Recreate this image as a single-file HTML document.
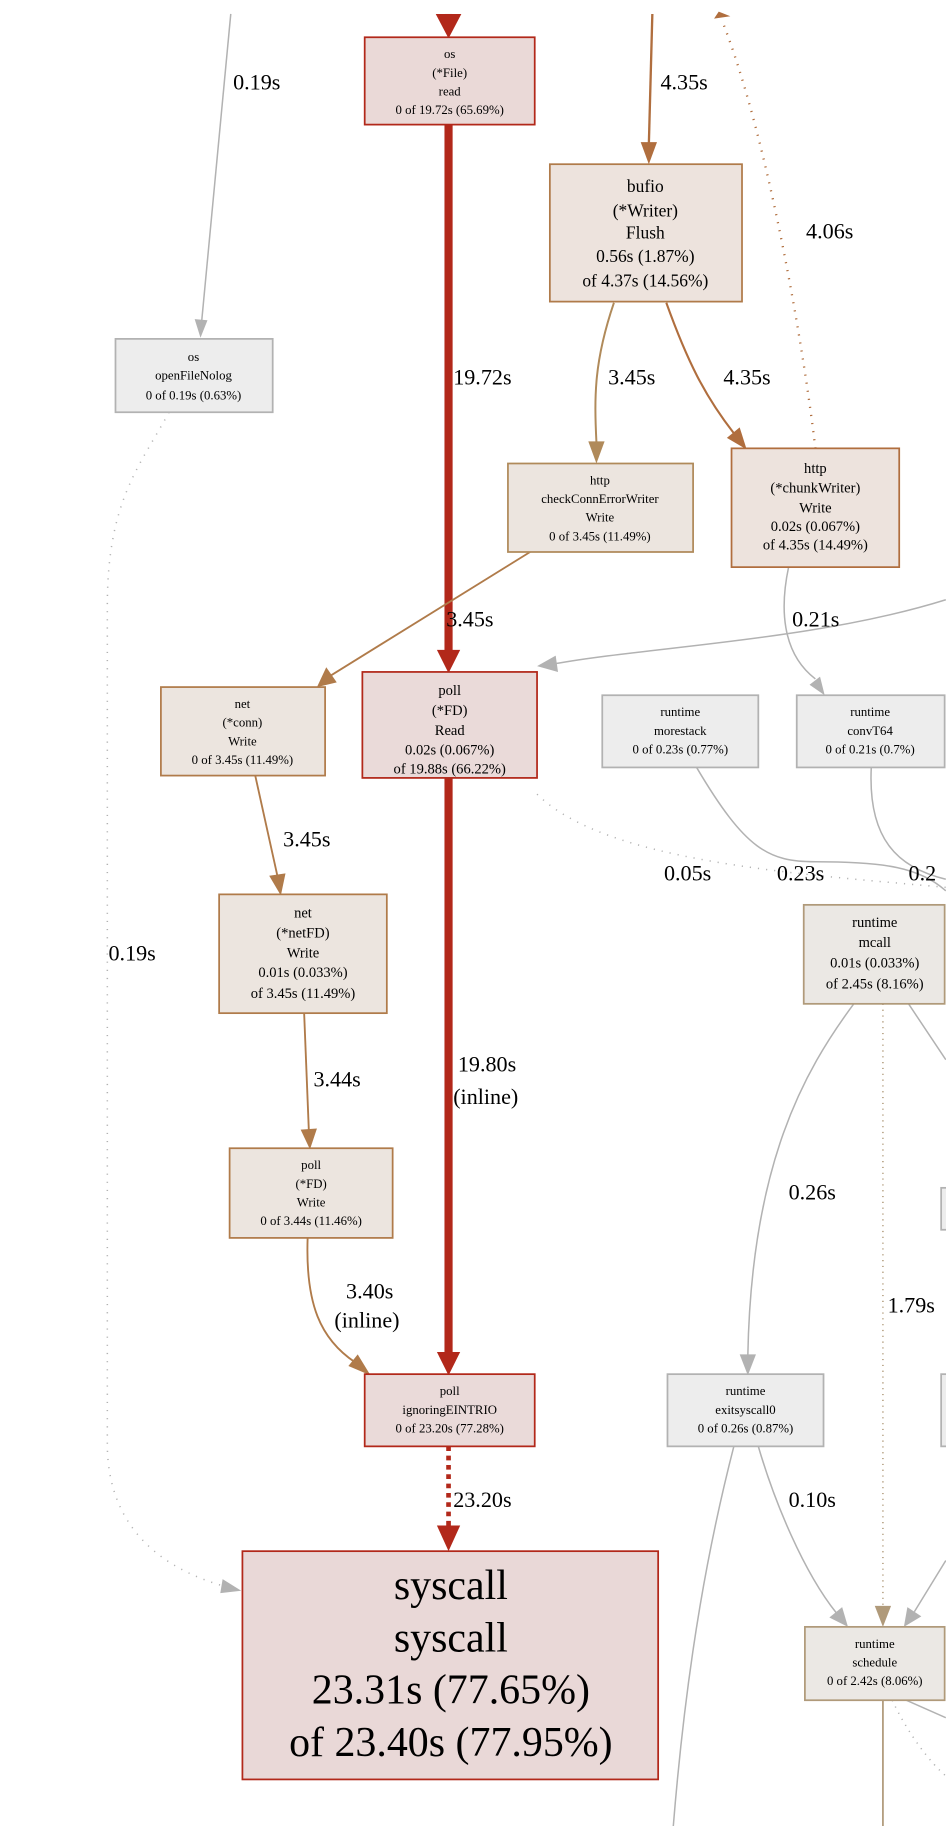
<!DOCTYPE html>
<html><head><meta charset="utf-8"><style>
html,body{margin:0;padding:0;background:#fff;width:946px;height:1826px;overflow:hidden}
svg{display:block}
text{font-family:"Liberation Serif",serif;text-anchor:middle;fill:#000}
.s{font-size:11px}.m{font-size:12.5px}.l{font-size:15px}.e{font-size:19px;text-anchor:start}
</style></head><body>
<svg width="946" height="1826" viewBox="0 0 812 1568" xmlns="http://www.w3.org/2000/svg">
<g fill="none">
<path d="M198,12 L173,276" stroke="#b2b2b2" stroke-width="1.3"/><path d="M167,274 L172,290 L178,275z" fill="#b2b2b2"/>
<path d="M385,12 L385,20" stroke="#b2281a" stroke-width="6"/><path d="M374,12 L385,33 L396,12z" fill="#b2281a"/>
<path d="M560,12 L557,124" stroke="#b06e3e" stroke-width="2"/><path d="M550,122 L557,141 L564,122z" fill="#b06e3e"/>
<path d="M700,385 C690,300 660,120 620,18" stroke="#b06e3e" stroke-width="2" stroke-dasharray="1,6"/><path d="M613,16 L617,10 L627,14z" fill="#b06e3e"/>
<path d="M385,107 L385,560" stroke="#b2281a" stroke-width="7"/><path d="M375,558 L385,578 L395,558z" fill="#b2281a"/>
<path d="M527,260 C510,310 510,340 512,380" stroke="#b08a5a" stroke-width="1.7"/><path d="M505,379 L512,398 L519,379z" fill="#b08a5a"/>
<path d="M572,260 C590,310 605,340 630,372" stroke="#b06e3e" stroke-width="1.8"/><path d="M624,376 L641,386 L635,367z" fill="#b06e3e"/>
<path d="M455,474 L284,580" stroke="#b07b4a" stroke-width="1.6"/><path d="M280,573 L272,590 L289,586z" fill="#b07b4a"/>
<path d="M677,487 C670,520 670,560 700,583" stroke="#b2b2b2" stroke-width="1.3"/><path d="M695,588 L708,597 L704,581z" fill="#b2b2b2"/>
<path d="M812,515 C700,550 560,555 476,570" stroke="#b2b2b2" stroke-width="1.3"/><path d="M477,563 L461,572 L479,577z" fill="#b2b2b2"/>
<path d="M219,666 L238,752" stroke="#b07b4a" stroke-width="1.6"/><path d="M231,752 L241,769 L245,750z" fill="#b07b4a"/>
<path d="M261,870 L265,970" stroke="#b07b4a" stroke-width="1.6"/><path d="M258,970 L266,987 L272,969z" fill="#b07b4a"/>
<path d="M264,1063 C262,1120 275,1150 305,1170" stroke="#b07b4a" stroke-width="1.6"/><path d="M299,1173 L318,1181 L307,1163z" fill="#b07b4a"/>
<path d="M385,668 L385,1163" stroke="#b2281a" stroke-width="7"/><path d="M375,1161 L385,1181 L395,1161z" fill="#b2281a"/>
<path d="M385,1242 L385,1312" stroke="#b2281a" stroke-width="4" stroke-dasharray="4,4"/><path d="M375,1310 L385,1332 L395,1310z" fill="#b2281a"/>
<path d="M145,354 C120,400 92,430 92,520 L92,1240 C92,1320 150,1350 192,1362" stroke="#b2b2b2" stroke-width="1.3" stroke-dasharray="1,6"/><path d="M191,1356 L207,1366 L189,1368z" fill="#b2b2b2"/>
<path d="M461,682 C520,740 680,750 812,762" stroke="#b2b2b2" stroke-width="1.3" stroke-dasharray="1,6"/>
<path d="M598,659 C640,730 660,740 700,740 C760,740 790,745 812,765" stroke="#b2b2b2" stroke-width="1.3"/>
<path d="M748,659 C745,720 770,745 812,755" stroke="#b2b2b2" stroke-width="1.3"/>
<path d="M733,862 C690,920 645,1000 642,1164" stroke="#b2b2b2" stroke-width="1.3"/><path d="M635,1163 L642,1181 L649,1163z" fill="#b2b2b2"/>
<path d="M758,862 L758,1380" stroke="#b09a7a" stroke-width="1.3" stroke-dasharray="1,4"/><path d="M751,1379 L758,1397 L765,1379z" fill="#b09a7a"/>
<path d="M780,862 L812,910" stroke="#b2b2b2" stroke-width="1.3"/>
<path d="M651,1242 C665,1290 690,1350 718,1385" stroke="#b2b2b2" stroke-width="1.3"/><path d="M712,1389 L728,1397 L723,1380z" fill="#b2b2b2"/>
<path d="M812,1340 L785,1384" stroke="#b2b2b2" stroke-width="1.3"/><path d="M779,1380 L776,1397 L791,1388z" fill="#b2b2b2"/>
<path d="M630,1242 C610,1320 590,1420 578,1568" stroke="#b2b2b2" stroke-width="1.3"/>
<path d="M758,1460 L758,1568" stroke="#b09a7a" stroke-width="1.5"/>
<path d="M778,1460 L812,1475" stroke="#b2b2b2" stroke-width="1.3"/>
<path d="M766,1460 C780,1490 800,1515 812,1525" stroke="#b2b2b2" stroke-width="1.3" stroke-dasharray="1,5"/>
</g>
<rect x="313" y="32" width="146" height="75" fill="#ead9d7" stroke="#b2281a" stroke-width="1.5"/>
<text class="s" x="386" y="50">os</text><text class="s" x="386" y="66">(*File)</text><text class="s" x="386" y="82">read</text><text class="s" x="386" y="98">0 of 19.72s (65.69%)</text>
<rect x="472" y="141" width="165" height="118" fill="#ede3dd" stroke="#b07b4a" stroke-width="1.5"/>
<text class="l" x="554" y="165">bufio</text><text class="l" x="554" y="186">(*Writer)</text><text class="l" x="554" y="205">Flush</text><text class="l" x="554" y="225">0.56s (1.87%)</text><text class="l" x="554" y="246">of 4.37s (14.56%)</text>
<rect x="99" y="291" width="135" height="63" fill="#ededed" stroke="#b2b2b2" stroke-width="1.5"/>
<text class="s" x="166" y="310">os</text><text class="s" x="166" y="326">openFileNolog</text><text class="s" x="166" y="343">0 of 0.19s (0.63%)</text>
<rect x="436" y="398" width="159" height="76" fill="#ece5df" stroke="#b08a5a" stroke-width="1.5"/>
<text class="s" x="515" y="416">http</text><text class="s" x="515" y="432">checkConnErrorWriter</text><text class="s" x="515" y="448">Write</text><text class="s" x="515" y="464">0 of 3.45s (11.49%)</text>
<rect x="628" y="385" width="144" height="102" fill="#ede3dd" stroke="#b06e3e" stroke-width="1.5"/>
<text class="m" x="700" y="406">http</text><text class="m" x="700" y="423">(*chunkWriter)</text><text class="m" x="700" y="440">Write</text><text class="m" x="700" y="456">0.02s (0.067%)</text><text class="m" x="700" y="472">of 4.35s (14.49%)</text>
<rect x="311" y="577" width="150" height="91" fill="#eadad9" stroke="#b2281a" stroke-width="1.5"/>
<text class="m" x="386" y="597">poll</text><text class="m" x="386" y="614">(*FD)</text><text class="m" x="386" y="631">Read</text><text class="m" x="386" y="648">0.02s (0.067%)</text><text class="m" x="386" y="664">of 19.88s (66.22%)</text>
<rect x="138" y="590" width="141" height="76" fill="#ece5df" stroke="#b07b4a" stroke-width="1.5"/>
<text class="s" x="208" y="608">net</text><text class="s" x="208" y="624">(*conn)</text><text class="s" x="208" y="640">Write</text><text class="s" x="208" y="656">0 of 3.45s (11.49%)</text>
<rect x="517" y="597" width="134" height="62" fill="#ededed" stroke="#b2b2b2" stroke-width="1.5"/>
<text class="s" x="584" y="615">runtime</text><text class="s" x="584" y="631">morestack</text><text class="s" x="584" y="647">0 of 0.23s (0.77%)</text>
<rect x="684" y="597" width="127" height="62" fill="#ededed" stroke="#b2b2b2" stroke-width="1.5"/>
<text class="s" x="747" y="615">runtime</text><text class="s" x="747" y="631">convT64</text><text class="s" x="747" y="647">0 of 0.21s (0.7%)</text>
<rect x="188" y="768" width="144" height="102" fill="#ece5df" stroke="#b07b4a" stroke-width="1.5"/>
<text class="m" x="260" y="788">net</text><text class="m" x="260" y="805">(*netFD)</text><text class="m" x="260" y="822">Write</text><text class="m" x="260" y="839">0.01s (0.033%)</text><text class="m" x="260" y="857">of 3.45s (11.49%)</text>
<rect x="690" y="777" width="121" height="85" fill="#ebe8e4" stroke="#b09a7a" stroke-width="1.5"/>
<text class="m" x="751" y="796">runtime</text><text class="m" x="751" y="813">mcall</text><text class="m" x="751" y="831">0.01s (0.033%)</text><text class="m" x="751" y="849">of 2.45s (8.16%)</text>
<rect x="197" y="986" width="140" height="77" fill="#ece5df" stroke="#b07b4a" stroke-width="1.5"/>
<text class="s" x="267" y="1004">poll</text><text class="s" x="267" y="1020">(*FD)</text><text class="s" x="267" y="1036">Write</text><text class="s" x="267" y="1052">0 of 3.44s (11.46%)</text>
<rect x="808" y="1020" width="10" height="36" fill="#ededed" stroke="#b2b2b2" stroke-width="1.5"/>
<rect x="808" y="1180" width="10" height="62" fill="#ededed" stroke="#b2b2b2" stroke-width="1.5"/>
<rect x="573" y="1180" width="134" height="62" fill="#ededed" stroke="#b2b2b2" stroke-width="1.5"/>
<text class="s" x="640" y="1198">runtime</text><text class="s" x="640" y="1214">exitsyscall0</text><text class="s" x="640" y="1230">0 of 0.26s (0.87%)</text>
<rect x="313" y="1180" width="146" height="62" fill="#eadad9" stroke="#b2281a" stroke-width="1.5"/>
<text class="s" x="386" y="1198">poll</text><text class="s" x="386" y="1214">ignoringEINTRIO</text><text class="s" x="386" y="1230">0 of 23.20s (77.28%)</text>
<rect x="208" y="1332" width="357" height="196" fill="#e9d8d7" stroke="#b2281a" stroke-width="1.5"/>
<text x="387" y="1373" style="font-size:36px">syscall</text><text x="387" y="1418" style="font-size:36px">syscall</text><text x="387" y="1463" style="font-size:36px">23.31s (77.65%)</text><text x="387" y="1508" style="font-size:36px">of 23.40s (77.95%)</text>
<rect x="691" y="1397" width="120" height="63" fill="#ebe8e4" stroke="#b09a7a" stroke-width="1.5"/>
<text class="s" x="751" y="1415">runtime</text><text class="s" x="751" y="1431">schedule</text><text class="s" x="751" y="1447">0 of 2.42s (8.06%)</text>
<text class="e" x="200" y="77">0.19s</text>
<text class="e" x="567" y="77">4.35s</text>
<text class="e" x="692" y="205">4.06s</text>
<text class="e" x="389" y="330">19.72s</text>
<text class="e" x="522" y="330">3.45s</text>
<text class="e" x="621" y="330">4.35s</text>
<text class="e" x="383" y="538">3.45s</text>
<text class="e" x="680" y="538">0.21s</text>
<text class="e" x="243" y="727">3.45s</text>
<text class="e" x="570" y="756">0.05s</text>
<text class="e" x="667" y="756">0.23s</text>
<text class="e" x="780" y="756">0.2</text>
<text class="e" x="93" y="825">0.19s</text>
<text class="e" x="269" y="933">3.44s</text>
<text class="e" x="393" y="920">19.80s</text>
<text class="e" x="389" y="948">(inline)</text>
<text class="e" x="677" y="1030">0.26s</text>
<text class="e" x="297" y="1115">3.40s</text>
<text class="e" x="287" y="1140">(inline)</text>
<text class="e" x="762" y="1127">1.79s</text>
<text class="e" x="389" y="1294">23.20s</text>
<text class="e" x="677" y="1294">0.10s</text>
</svg>
</body></html>
